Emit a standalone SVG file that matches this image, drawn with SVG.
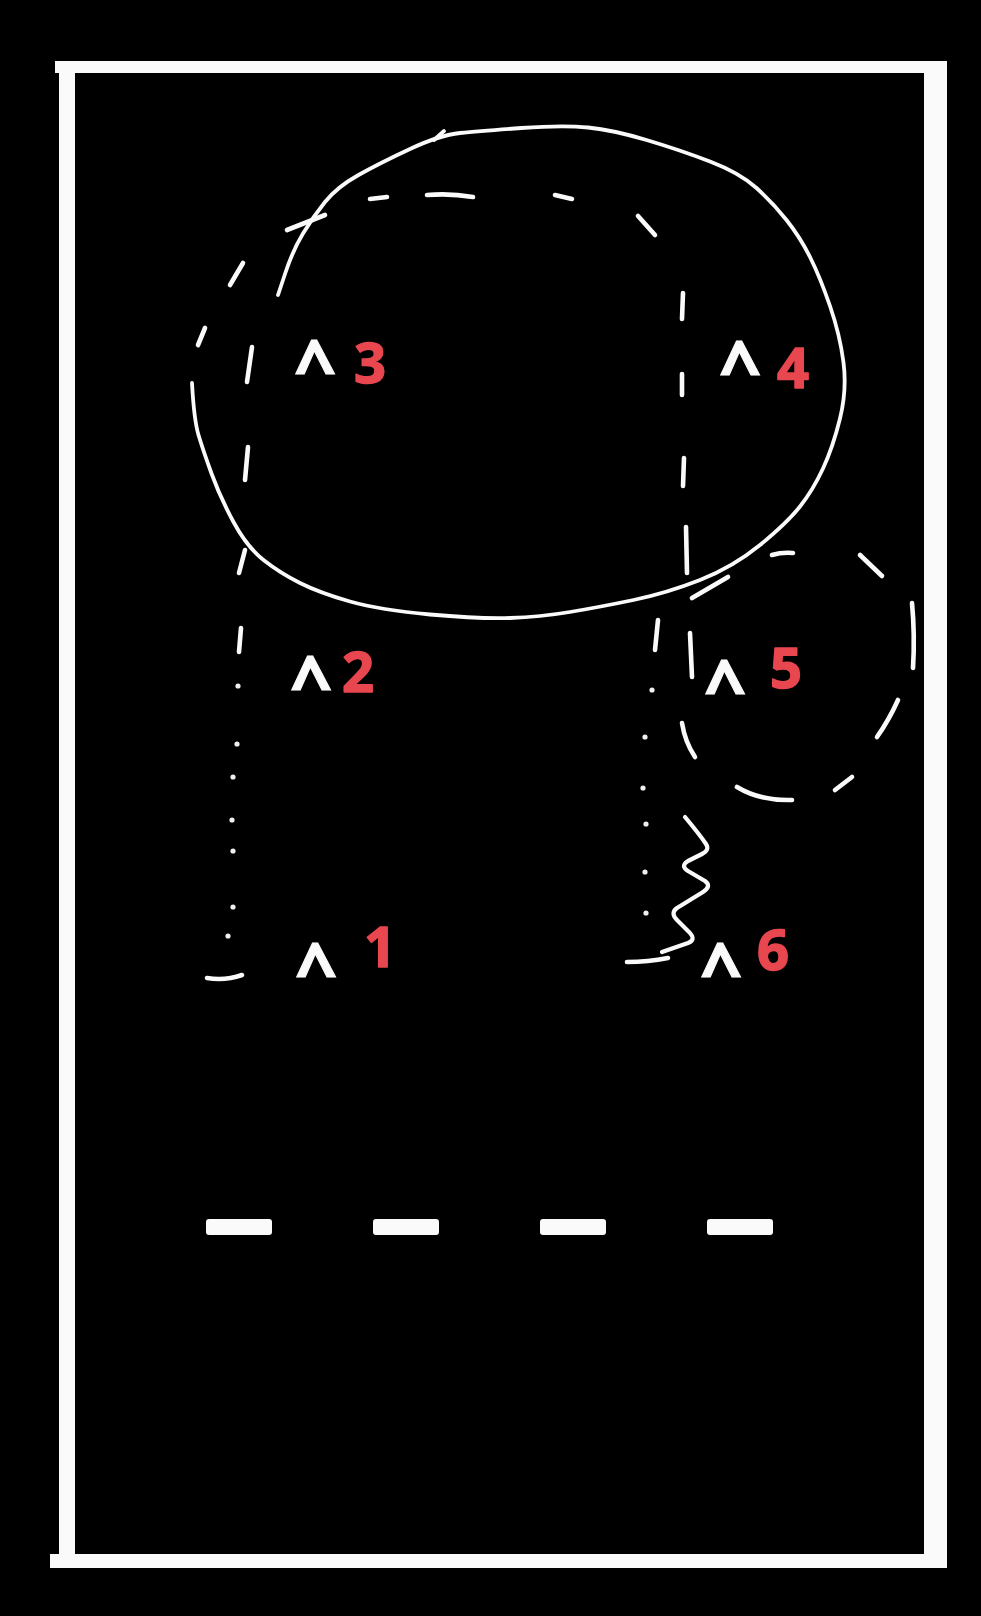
<svg xmlns="http://www.w3.org/2000/svg" width="981" height="1616" viewBox="0 0 981 1616">
<style>
.bg{fill:#000}
.bar{fill:#fafafa}
.solid{fill:none;stroke:#fafafa;stroke-width:3.8;stroke-linecap:round;stroke-linejoin:round}
.zig{fill:none;stroke:#fafafa;stroke-width:4.2;stroke-linecap:round;stroke-linejoin:round}
.dash{fill:none;stroke:#fafafa;stroke-width:4.6;stroke-linecap:round}
.dot{fill:#f0f0f0}
.caret{font-family:"Open Sans","DejaVu Sans",sans-serif;font-weight:700;font-size:74px;fill:#fafafa;stroke:#fafafa;stroke-width:1;stroke-linejoin:miter}
.num{font-family:"Open Sans","DejaVu Sans",sans-serif;font-weight:700;font-size:56px;fill:#e8474f;stroke:#e8474f;stroke-width:1.5;stroke-linejoin:round}
.lane{fill:#fafafa}
</style>
<rect class="bg" x="0" y="0" width="981" height="1616"/>
<g id="frame">
<rect class="bar" x="55" y="61" width="892" height="12"/>
<rect class="bar" x="59" y="61" width="16" height="1493"/>
<rect class="bar" x="924" y="61" width="23" height="1507"/>
<rect class="bar" x="50" y="1554" width="897" height="14"/>
</g>
<g id="solid-loop">
<path class="solid" d="M192,383 Q194,420 198.5,435 Q203,450 211.5,473.5 Q220,497 233.5,522 Q247,547 263.5,560 Q280,573 300,583 Q320,593 350,601.5 Q380,610 430,614.5 Q480,619 510,618 Q540,617 570,612 Q600,607 633.5,600 Q667,593 700,580 Q733,567 760,545 Q787,523 800,506.5 Q813,490 823,468.5 Q833,447 840,418.5 Q847,390 843.5,362.5 Q840,335 830,306 Q820,277 810,257 Q800,237 786.5,220 Q773,203 756.5,188 Q740,173 710,161.5 Q680,150 646.5,140 Q613,130 588,127.5 Q563,125 521.5,128 Q480,131 460,133 Q440,135 410,149 Q380,163 358.5,175 Q337,187 325,202 Q313,217 303,233.5 Q293,250 285.5,272.5 L278,295"/>
<path class="solid" d="M444,131 L434,140"/>
</g>
<g id="dashed-loop">
<path class="dash" d="M239,652 L241,628"/>
<path class="dash" d="M239,573 L245,550"/>
<path class="dash" d="M245,480 L248,447"/>
<path class="dash" d="M247,382 L252,347"/>
<path class="dash" d="M198,345 L205,328"/>
<path class="dash" d="M230,285 L243,263"/>
<path class="dash" d="M287,230 L325,215"/>
<path class="dash" d="M370,199 L387,197"/>
<path class="dash" d="M427,195 Q450,193 473,197"/>
<path class="dash" d="M555,195 L572,199"/>
<path class="dash" d="M638,216 L655,235"/>
<path class="dash" d="M683,293 L682,319"/>
<path class="dash" d="M682,374 L682,395"/>
<path class="dash" d="M684,458 L683,486"/>
<path class="dash" d="M686,527 L687,573"/>
</g>
<g id="dashed-circle">
<path class="dash" d="M692,598 L728,577"/>
<path class="dash" d="M772,555 Q782,552 793,553"/>
<path class="dash" d="M860,555 L882,576"/>
<path class="dash" d="M912,603 Q915,635 913,668"/>
<path class="dash" d="M898,700 Q889,720 877,737"/>
<path class="dash" d="M852,777 L835,790"/>
<path class="dash" d="M792,800 Q760,801 737,787"/>
<path class="dash" d="M682,723 Q685,742 695,757"/>
<path class="dash" d="M690,633 L692,677"/>
<path class="dash" d="M658,620 L655,650"/>
</g>
<g id="dotted-left">
<circle class="dot" cx="238" cy="686" r="2.6"/>
<circle class="dot" cx="237" cy="744" r="2.6"/>
<circle class="dot" cx="233" cy="777" r="2.6"/>
<circle class="dot" cx="232" cy="820" r="2.6"/>
<circle class="dot" cx="233" cy="851" r="2.6"/>
<circle class="dot" cx="233" cy="907" r="2.6"/>
<circle class="dot" cx="228" cy="936" r="2.6"/>
<path class="dash" d="M207,978 Q225,981 242,975"/>
</g>
<g id="dotted-right">
<circle class="dot" cx="652" cy="690" r="2.6"/>
<circle class="dot" cx="645" cy="737" r="2.6"/>
<circle class="dot" cx="643" cy="788" r="2.6"/>
<circle class="dot" cx="646" cy="824" r="2.6"/>
<circle class="dot" cx="645" cy="872" r="2.6"/>
<circle class="dot" cx="646" cy="913" r="2.6"/>
<path class="dash" d="M627,962 Q648,962 668,958"/>
</g>
<g id="zigzag">
<path class="zig" d="M685,817 Q700,835 706,844 Q710,850 702,854 L688,861 Q680,866 688,871 L705,881 Q712,886 703,892 L677,908 Q670,913 677,920 L690,933 Q696,940 688,943 L662,952"/>
</g>
<g id="label-3"><text class="caret" x="294" y="393">^</text><text class="num" x="354" y="383">3</text></g>
<g id="label-4"><text class="caret" x="719" y="394">^</text><text class="num" x="777" y="388">4</text></g>
<g id="label-2"><text class="caret" x="290" y="709">^</text><text class="num" x="342" y="692">2</text></g>
<g id="label-5"><text class="caret" x="704" y="713">^</text><text class="num" x="770" y="688">5</text></g>
<g id="label-1"><text class="caret" x="295" y="996">^</text><text class="num" x="364" y="967">1</text></g>
<g id="label-6"><text class="caret" x="700" y="996">^</text><text class="num" x="757" y="970">6</text></g>
<g id="lane-markers">
<rect class="lane" x="206" y="1219" width="66" height="16" rx="3"/>
<rect class="lane" x="373" y="1219" width="66" height="16" rx="3"/>
<rect class="lane" x="540" y="1219" width="66" height="16" rx="3"/>
<rect class="lane" x="707" y="1219" width="66" height="16" rx="3"/>
</g>
</svg>
